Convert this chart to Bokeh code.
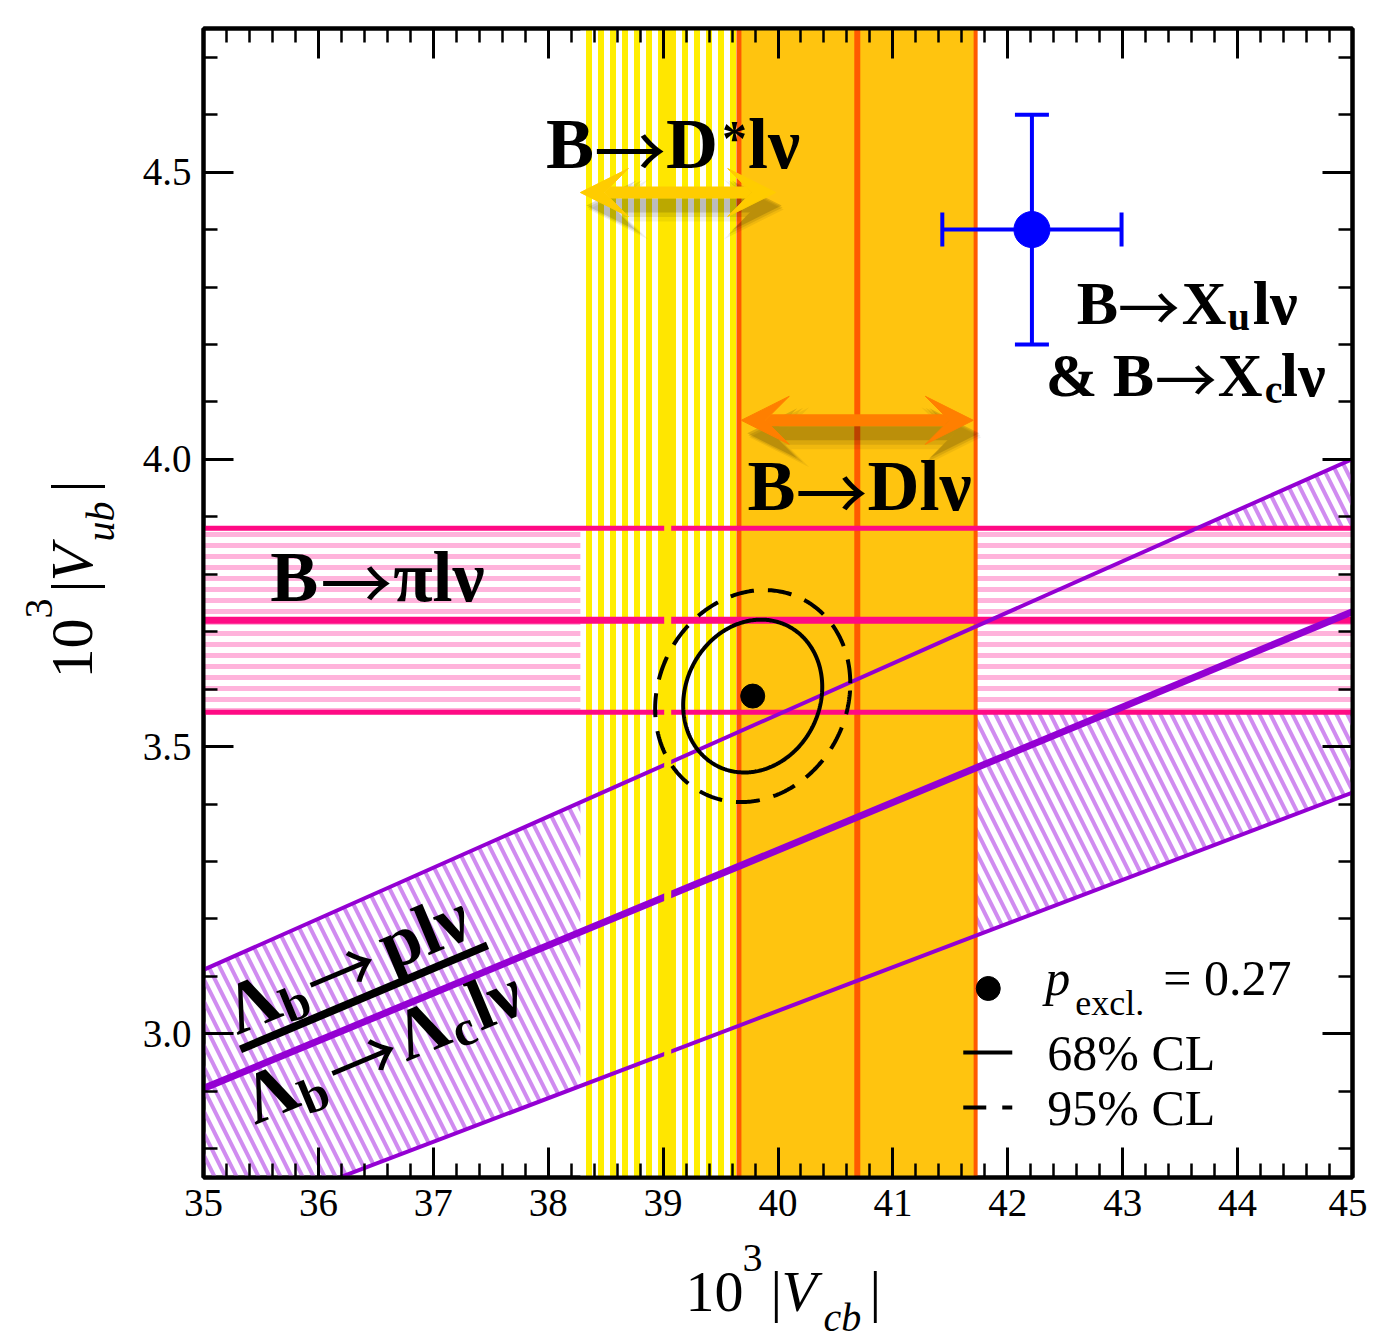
import math
import numpy as np
from bokeh.plotting import figure
from bokeh.layouts import column, row
from bokeh.models import (Label, Arrow, VeeHead, LinearAxis, SingleIntervalTicker,
                          NumeralTickFormatter, Range1d, CustomJSTickFormatter)
from bokeh.embed import file_html
from bokeh.resources import INLINE

# ---------------- data (all in units of 10^-3) ----------------
x_limits = [35.0, 45.0]
y_limits = [2.75, 4.75]
vcb_dstar = [38.28, 39.04, 39.80]        # B -> D* l nu : low, central, high
vcb_d = [39.66, 40.69, 41.72]            # B -> D l nu
vub_pi = [3.56, 3.72, 3.88]              # B -> pi l nu
ratio_lambda = [0.0760, 0.0830, 0.0889]  # Lambda_b -> p / Lambda_c : |Vub|/|Vcb|
incl_point = [42.21, 4.40]               # B -> Xu l nu & B -> Xc l nu
incl_err = [0.78, 0.20]
fit_center = [39.78, 3.588]
fit_half68 = [0.605, 0.133]
fit_half95 = [0.849, 0.1845]
fit_rho = 0.12
p_excl = 0.27

# ---------------- layout ----------------
FW = FH = 1149
SX = FW / (x_limits[1] - x_limits[0])   # px per unit
SY = FH / (y_limits[1] - y_limits[0])
SERIF = "Liberation Serif"
ARROWFONT = "Noto Sans CJK JP"
YLAB_W = 126
MB_LEFT, MB_RIGHT, MB_TOP, MB_BOTTOM = 203 - YLAB_W, 15, 28, 55
MAIN_W = MB_LEFT + FW + MB_RIGHT
MAIN_H = MB_TOP + FH + MB_BOTTOM
XLAB_H = 1341 - MAIN_H
TOTAL_W = YLAB_W + MAIN_W

p = figure(frame_width=FW, frame_height=FH,
           x_range=Range1d(*x_limits), y_range=Range1d(*y_limits),
           output_backend="svg", toolbar_location=None,
           min_border_left=MB_LEFT, min_border_right=MB_RIGHT,
           min_border_top=MB_TOP, min_border_bottom=MB_BOTTOM)
p.grid.visible = False
p.outline_line_color = "black"
p.outline_line_width = 4
p.background_fill_color = "white"
p.border_fill_color = "white"


def style_axis(ax, show):
    ax.axis_line_color = "black"
    ax.axis_line_width = 4
    ax.major_tick_in = 30
    ax.major_tick_out = 0
    ax.minor_tick_in = 14
    ax.minor_tick_out = 0
    ax.major_tick_line_width = 3
    ax.minor_tick_line_width = 2.5
    ax.major_tick_line_color = "black"
    ax.minor_tick_line_color = "black"
    if show:
        ax.major_label_text_font = SERIF
        ax.major_label_text_font_size = "39px"
        ax.major_label_text_color = "black"
        ax.major_label_standoff = 12
    else:
        ax.formatter = CustomJSTickFormatter(code="return ''")
        ax.major_label_standoff = 0
        ax.major_label_text_font_size = "1px"


p.xaxis[0].ticker = SingleIntervalTicker(interval=1.0, num_minor_ticks=5)
p.yaxis[0].ticker = SingleIntervalTicker(interval=0.5, num_minor_ticks=5)
p.yaxis[0].formatter = NumeralTickFormatter(format="0.0")
style_axis(p.xaxis[0], True)
style_axis(p.yaxis[0], True)
top_ax = LinearAxis(ticker=SingleIntervalTicker(interval=1.0, num_minor_ticks=5))
right_ax = LinearAxis(ticker=SingleIntervalTicker(interval=0.5, num_minor_ticks=5))
style_axis(top_ax, False)
style_axis(right_ax, False)
p.add_layout(top_ax, "above")
p.add_layout(right_ax, "right")

PURPLE = "#9400D3"
PINK = "#FF0A84"
ORANGE_LINE = "#FF5A00"
YELLOW_C = "#FFE600"

xs = np.array(x_limits)
ylo, yhi = y_limits

# Lambda_b band (hatched)
p.patch(x=[xs[0], xs[1], xs[1], xs[0]],
        y=[ratio_lambda[0] * xs[0], ratio_lambda[0] * xs[1],
           ratio_lambda[2] * xs[1], ratio_lambda[2] * xs[0]],
        fill_color=None, line_color=None,
        hatch_pattern="\\", hatch_color="#D08CF0", hatch_weight=4, hatch_scale=22)

# B -> pi l nu band
p.quad(left=xs[0], right=xs[1], bottom=vub_pi[0], top=vub_pi[2],
       fill_color="white", line_color=None,
       hatch_pattern="-", hatch_color="#FFB3DB", hatch_weight=5, hatch_scale=11)

# B -> D* l nu band
p.quad(left=vcb_dstar[0], right=vcb_dstar[2], bottom=ylo, top=yhi,
       fill_color="white", line_color=None,
       hatch_pattern="|", hatch_color="#FFEE00", hatch_weight=6, hatch_scale=12)
p.segment(x0=[vcb_dstar[1]], y0=[ylo], x1=[vcb_dstar[1]], y1=[yhi],
          line_color=YELLOW_C, line_width=16)

# B -> D l nu band
p.quad(left=vcb_d[0], right=vcb_d[2], bottom=ylo, top=yhi,
       fill_color="#FFC40F", line_color=None)
p.segment(x0=vcb_d, y0=[ylo] * 3, x1=vcb_d, y1=[yhi] * 3,
          line_color=ORANGE_LINE, line_width=[5, 6, 4])

# pi lines
p.segment(x0=[xs[0]] * 3, y0=vub_pi, x1=[xs[1]] * 3, y1=vub_pi,
          line_color=PINK, line_width=[5, 7, 5])

# Lambda_b lines
for r, w in zip(ratio_lambda, [4, 7, 4]):
    p.line(x=xs, y=r * xs, line_color=PURPLE, line_width=w)

# yellow central line cut across the other lines
p.segment(x0=[vcb_dstar[1]], y0=[ylo], x1=[vcb_dstar[1]], y1=[yhi],
          line_color=YELLOW_C, line_width=7)

# fit ellipses
t = np.linspace(0, 2 * np.pi, 361)


def ellipse(half):
    ex = fit_center[0] + half[0] * np.cos(t)
    ey = fit_center[1] + half[1] * (fit_rho * np.cos(t) + math.sqrt(1 - fit_rho ** 2) * np.sin(t))
    return ex, ey


ex, ey = ellipse(fit_half95)
p.line(ex, ey, line_color="black", line_width=4, line_dash="24 14")
ex, ey = ellipse(fit_half68)
p.line(ex, ey, line_color="black", line_width=4)
p.scatter([fit_center[0]], [fit_center[1]], size=24, color="black")

# inclusive point
BLUE = "#0000FF"
p.segment(x0=[incl_point[0] - incl_err[0], incl_point[0]],
          y0=[incl_point[1], incl_point[1] - incl_err[1]],
          x1=[incl_point[0] + incl_err[0], incl_point[0]],
          y1=[incl_point[1], incl_point[1] + incl_err[1]],
          line_color=BLUE, line_width=4)
p.scatter([incl_point[0] - incl_err[0], incl_point[0] + incl_err[0]], [incl_point[1]] * 2,
          marker="dash", angle=math.pi / 2, size=34, line_color=BLUE, line_width=4)
p.scatter([incl_point[0]] * 2, [incl_point[1] - incl_err[1], incl_point[1] + incl_err[1]],
          marker="dash", size=34, line_color=BLUE, line_width=4)
p.scatter([incl_point[0]], [incl_point[1]], size=36, color=BLUE)

# fraction bar of the Lambda_b label (parallel to the band)
bar_x = np.array([35.322, 37.472])
p.line(bar_x, [2.973, 3.154], line_color="black", line_width=8)

# legend glyphs
LX, LY = 41.83, 3.079
p.scatter([LX], [LY], size=24, color="black")
sx = np.array([LX - 25 / SX, LX + 24 / SX])
p.line(sx, [LY - 64 / SY] * 2, line_color="black", line_width=4)
p.line(sx, [LY - 119 / SY] * 2, line_color="black", line_width=4, line_dash="23 16")


# ---------------- arrows ----------------
def darrow(x0, x1, y, color, size, width):
    for dpx, dpy, extra, a in [(8, -17, 12, 0.06), (7, -15, 7, 0.09), (6, -13, 2, 0.14)]:
        dx, dy = dpx / SX, dpy / SY
        p.add_layout(Arrow(x_start=x0 + dx, y_start=y + dy, x_end=x1 + dx, y_end=y + dy,
                           line_color="black", line_alpha=a, line_width=width + extra,
                           start=VeeHead(size=size + extra, fill_color="black", fill_alpha=a, line_color=None),
                           end=VeeHead(size=size + extra, fill_color="black", fill_alpha=a, line_color=None)))
    p.add_layout(Arrow(x_start=x0, y_start=y, x_end=x1, y_end=y,
                       line_color=color, line_width=width,
                       start=VeeHead(size=size, fill_color=color, line_color=color, line_width=1),
                       end=VeeHead(size=size, fill_color=color, line_color=color, line_width=1)))


darrow(vcb_dstar[0], 39.98, 4.4645, "#FFCC00", 48, 12)
darrow(39.68, 41.70, 4.068, "#FF7F00", 48, 12)


# ---------------- texts ----------------
BASE_FIX = 0.34   # Bokeh places the run's middle at the anchor: lift it to the baseline


def runs(fig, x, y, parts, angle_deg=0.0, x_off=0.0, y_off=0.0):
    th = math.radians(angle_deg)
    c, s = math.cos(th), math.sin(th)
    for part in parts:
        text, d, h, size, style = part[:5]
        font = part[5] if len(part) > 5 else SERIF
        h = h + BASE_FIX * size
        fig.add_layout(Label(x=x, y=y, x_offset=x_off + d * c - h * s, y_offset=y_off + d * s + h * c,
                             angle=th, text=text, text_font=font, text_font_style=style,
                             text_font_size=f"{size}px", text_color="black",
                             text_baseline="alphabetic", text_align="left"))


B = "bold"
N = "normal"
AR = "→"
runs(p, 37.98, 4.506, [("B", 0, 0, 72, B), (AR, 48, -2, 72, N, ARROWFONT), ("D", 120, 0, 72, B),
                       ("*", 176, 14, 50, B), ("lν", 202, 0, 72, B)])
runs(p, 35.58, 3.753, [("B", 0, 0, 72, B), (AR, 50, -2, 72, N, ARROWFONT), ("πlν", 123, 0, 72, B)])
runs(p, 39.735, 3.911, [("B", 0, 0, 72, B), (AR, 48, -2, 72, N, ARROWFONT), ("Dlν", 120, 0, 72, B)])
runs(p, 42.60, 4.236, [("B", 0, 0, 62, B), (AR, 41, -2, 62, N, ARROWFONT), ("X", 105, 0, 62, B),
                       ("u", 151, -6, 40, B), ("lν", 176, 0, 62, B)])
runs(p, 42.33, 4.111, [("& B", 0, 0, 62, B), (AR, 109, -2, 62, N, ARROWFONT), ("X", 172, 0, 62, B),
                       ("c", 219, -7, 40, B), ("lν", 235, 0, 62, B)])
runs(p, 35.296, 2.997, [("Λ", 0, 0, 72, B), ("b", 52, -9, 50, B), (AR, 84, -2, 72, N, ARROWFONT),
                        ("plν", 166, 0, 72, B)], angle_deg=22.7)
runs(p, 35.4526, 2.8405, [("Λ", 0, 0, 72, B), ("b", 52, -11, 50, B), (AR, 88, -2, 72, N, ARROWFONT),
                          ("Λ", 164, 0, 72, B), ("c", 218, -8, 50, B), ("lν", 244, 0, 72, B)],
     angle_deg=22.7)

# legend texts
runs(p, LX, LY, [("p", 57, -7, 50, "italic"), ("excl.", 87, -27, 36, N),
                 (f"= {p_excl:.2f}", 175, -7, 50, N),
                 ("68% CL", 59, -82, 50, N), ("95% CL", 59, -137, 50, N)])


# ---------------- axis titles (own small canvases beside the frame) ----------------
def text_canvas(w, h):
    f = figure(width=w, height=h, x_range=Range1d(0, w), y_range=Range1d(0, h),
               output_backend="svg", toolbar_location=None,
               x_axis_location=None, y_axis_location=None,
               min_border=0, min_border_left=0, min_border_right=0,
               min_border_top=0, min_border_bottom=0)
    f.grid.visible = False
    f.outline_line_color = None
    f.background_fill_color = "white"
    f.border_fill_color = "white"
    return f


ylab = text_canvas(YLAB_W, MAIN_H)
runs(ylab, 92, MAIN_H - 697, [("10", 0, 0, 60, N), ("3", 60, 40, 40, N),
                              ("|", 86, 0, 60, N), ("V", 97, 0, 60, "italic"),
                              ("ub", 137, -22, 40, "italic"), ("|", 186, 0, 60, N)],
     angle_deg=90)

xlab = text_canvas(TOTAL_W, XLAB_H)
runs(xlab, 685, 1341 - 1311, [("10", 0, 0, 58, N), ("3", 57, 40, 40, N),
                              ("|", 85, 0, 58, N), ("V", 96, 0, 58, "italic"),
                              ("cb", 138, -20, 40, "italic"), ("|", 184, 0, 58, N)])

layout = column(row(ylab, p, spacing=0), xlab, spacing=0)
open("out.html", "w").write(file_html(layout, INLINE))
